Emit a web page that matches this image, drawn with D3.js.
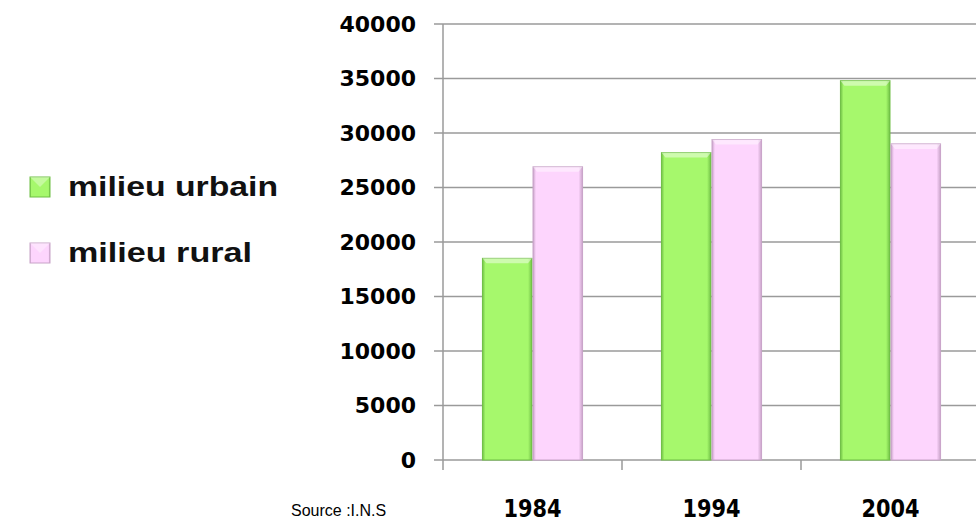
<!DOCTYPE html>
<html><head><meta charset="utf-8">
<script src="https://cdn.jsdelivr.net/npm/d3@7"></script>
<style>body{margin:0;background:#fff}svg{display:block}</style>
</head><body>
<svg id="c" width="976" height="522"></svg>
<script>
const years = ["1984","1994","2004"];
const seriesNames = ["milieu urbain","milieu rural"];
const urbain = [18500, 28200, 34800];
const rural = [26900, 29400, 29000];
const yTicks = [0,5000,10000,15000,20000,25000,30000,35000,40000];
const colors = ["#a6f86c","#fdd5fd"];
const edges = ["#6fbf45","#c8a3c8"];

const svg = d3.select("#c");
const defs = svg.append("defs");
colors.forEach((c,i)=>{
  const g = defs.append("linearGradient").attr("id","hg"+i).attr("x1","0").attr("x2","1");
  g.append("stop").attr("offset","0").attr("stop-color",edges[i]);
  g.append("stop").attr("offset","0.06").attr("stop-color",c);
  g.append("stop").attr("offset","0.92").attr("stop-color",c);
  g.append("stop").attr("offset","1").attr("stop-color",edges[i]);
});

const x0 = d3.scaleBand().domain(years).range([443, 980]).paddingInner(0).paddingOuter(0);
const x1 = d3.scaleBand().domain(seriesNames).range([0, x0.bandwidth()]).paddingInner(0.02).paddingOuter(0.78);
const y = d3.scaleLinear().domain([0,40000]).range([460,24]);

// gridlines
svg.append("g").selectAll("line").data(yTicks).join("line")
  .attr("x1",434).attr("x2",976).attr("y1",d=>y(d)).attr("y2",d=>y(d))
  .attr("stroke","#9a9a9a").attr("stroke-width",1.5);
// y axis line
svg.append("line").attr("x1",443).attr("x2",443).attr("y1",y(40000)).attr("y2",470)
  .attr("stroke","#9a9a9a").attr("stroke-width",1.5);
// x ticks
svg.append("g").selectAll("line").data(years.slice(1)).join("line")
  .attr("x1",d=>x0(d)).attr("x2",d=>x0(d)).attr("y1",460).attr("y2",470)
  .attr("stroke","#9a9a9a").attr("stroke-width",1.5);

// y labels
svg.append("g").selectAll("text").data(yTicks).join("text")
  .attr("x",416).attr("y",d=>y(d)).attr("dy","0.36em").attr("text-anchor","end")
  .attr("font-family","DejaVu Sans").attr("font-weight","bold").attr("font-size",22)
  .attr("fill","#000").text(d=>d);

// bars
const data = years.map((yr,i)=>({yr, vals:[urbain[i], rural[i]]}));
const groups = svg.append("g").selectAll("g").data(data).join("g")
  .attr("transform",d=>`translate(${x0(d.yr)},0)`);
groups.selectAll("rect.bar").data(d=>d.vals.map((v,k)=>({k,v}))).join("rect")
  .attr("class","bar")
  .attr("x",d=>x1(seriesNames[d.k])).attr("width",x1.bandwidth())
  .attr("y",d=>y(d.v)).attr("height",d=>y(0)-y(d.v))
  .attr("fill",d=>`url(#hg${d.k})`).attr("stroke",d=>edges[d.k]).attr("stroke-width",1);
// top bevel highlight
groups.selectAll("path.bev").data(d=>d.vals.map((v,k)=>({k,v}))).join("path")
  .attr("class","bev")
  .attr("d",d=>{const xa=x1(seriesNames[d.k]), w=x1.bandwidth(), t=y(d.v);
    return `M${xa},${t}L${xa+w},${t}L${xa+w-4},${t+5}L${xa+4},${t+5}Z`;})
  .attr("fill","#ffffff").attr("opacity",0.45);

// x labels
svg.append("g").selectAll("text").data(years).join("text")
  .attr("x",d=>x0(d)+x0.bandwidth()/2).attr("y",517).attr("text-anchor","middle")
  .attr("font-family","DejaVu Sans Condensed, DejaVu Sans").attr("font-weight","bold").attr("font-size",25)
  .attr("textLength",58).attr("lengthAdjust","spacingAndGlyphs")
  .attr("fill","#000").text(d=>d);

// source
svg.append("text").attr("x",291).attr("y",516).attr("font-family","Liberation Sans, Arial")
  .attr("font-size",16).attr("fill","#000").text("Source :I.N.S");

// legend
const leg = svg.append("g").selectAll("g").data(seriesNames).join("g")
  .attr("transform",(d,i)=>`translate(0,${187+i*66})`);
leg.append("rect").attr("x",30).attr("y",-10).attr("width",20).attr("height",20)
  .attr("fill",(d,i)=>`url(#hg${i})`).attr("stroke",(d,i)=>edges[i]);
leg.append("path").attr("d","M30,-10L50,-10L40,0Z").attr("fill","#fff").attr("opacity",0.35);
leg.append("text").attr("x",68).attr("y",9)
  .attr("font-family","Liberation Sans, Arial").attr("font-size",27).attr("font-weight","bold")
  .attr("textLength",(d,i)=>i===0?210:184).attr("lengthAdjust","spacingAndGlyphs")
  .attr("fill","#111").text(d=>d);
</script>
</body></html>
